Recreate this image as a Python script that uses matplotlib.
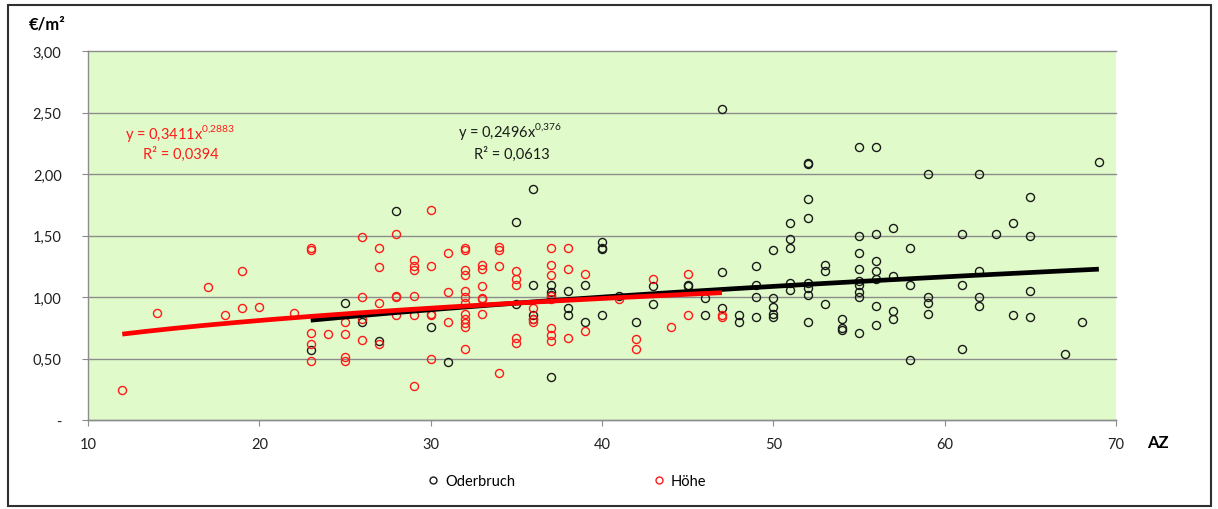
import numpy as np
import matplotlib
matplotlib.use("Agg")
import matplotlib.pyplot as plt
from matplotlib.lines import Line2D
from matplotlib.patches import Rectangle
from matplotlib.ticker import FuncFormatter

plt.rcParams["font.family"] = ["Lato", "DejaVu Sans"]
plt.rcParams["mathtext.fontset"] = "custom"
plt.rcParams["mathtext.rm"] = "Lato"

# Oderbruch: AZ vs. €/m²
ode_x = [
    23, 25, 26, 27, 28, 30, 31,
    35, 35,
    36, 36, 36, 36,
    37, 37, 37, 37,
    38, 38, 38,
    39, 39,
    40, 40, 40, 40,
    41, 42,
    43, 43,
    45, 45,
    46, 46,
    47, 47, 47,
    48, 48,
    49, 49, 49, 49,
    50, 50, 50, 50, 50,
    51, 51, 51, 51, 51,
    52, 52, 52, 52, 52, 52, 52, 52,
    53, 53, 53,
    54, 54, 54,
    55, 55, 55, 55, 55, 55, 55, 55, 55,
    56, 56, 56, 56, 56, 56, 56,
    57, 57, 57, 57,
    58, 58, 58,
    59, 59, 59, 59,
    61, 61, 61,
    62, 62, 62, 62,
    63, 64, 64,
    65, 65, 65, 65,
    67, 68, 69,
]
ode_y = [
    0.57, 0.95, 0.80, 0.64, 1.70, 0.76, 0.47,
    1.61, 0.94,
    1.88, 1.10, 0.85, 0.82,
    1.10, 1.04, 1.02, 0.35,
    1.05, 0.91, 0.85,
    1.10, 0.80,
    1.45, 1.40, 1.39, 0.85,
    1.01, 0.80,
    1.09, 0.94,
    1.10, 1.09,
    0.99, 0.85,
    2.53, 1.20, 0.91,
    0.85, 0.80,
    1.25, 1.10, 1.00, 0.84,
    1.38, 0.99, 0.92, 0.86, 0.84,
    1.60, 1.47, 1.40, 1.11, 1.06,
    2.08, 2.09, 1.80, 1.64, 1.11, 1.07, 1.02, 0.80,
    1.26, 1.21, 0.94,
    0.82, 0.75, 0.73,
    2.22, 1.50, 1.36, 1.23, 1.13, 1.10, 1.04, 1.00, 0.71,
    2.22, 1.51, 1.29, 1.21, 1.15, 0.93, 0.77,
    1.56, 1.17, 0.89, 0.82,
    1.40, 1.10, 0.49,
    2.00, 1.00, 0.95, 0.86,
    1.51, 1.10, 0.58,
    2.00, 1.21, 1.00, 0.93,
    1.51, 1.60, 0.85,
    1.81, 1.50, 1.05, 0.84,
    0.54, 0.80, 2.10,
]

# Höhe: AZ vs. €/m²
hoe_x = [
    12, 14, 17, 18, 19, 19, 20, 22,
    23, 23, 23, 23, 23,
    24,
    25, 25, 25, 25,
    26, 26, 26, 26,
    27, 27, 27, 27,
    28, 28, 28, 28,
    29, 29, 29, 29, 29, 29,
    30, 30, 30, 30, 30,
    31, 31, 31,
    32, 32, 32, 32, 32, 32, 32, 32, 32, 32, 32, 32,
    33, 33, 33, 33, 33, 33,
    34, 34, 34, 34,
    35, 35, 35, 35, 35,
    36, 36, 36,
    37, 37, 37, 37, 37, 37, 37, 37,
    38, 38, 38,
    39, 39,
    41, 42, 42, 43, 44,
    45, 45,
    47, 47,
]
hoe_y = [
    0.24, 0.87, 1.08, 0.85, 1.21, 0.91, 0.92, 0.87,
    1.40, 1.38, 0.71, 0.62, 0.48,
    0.70,
    0.80, 0.70, 0.51, 0.48,
    1.49, 1.00, 0.82, 0.65,
    1.40, 1.24, 0.95, 0.62,
    1.51, 1.01, 1.00, 0.85,
    1.30, 1.25, 1.22, 1.01, 0.85, 0.28,
    1.71, 1.25, 0.86, 0.85, 0.50,
    1.36, 1.04, 0.80,
    1.40, 1.38, 1.22, 1.18, 1.05, 1.00, 0.95, 0.86, 0.82, 0.79, 0.76, 0.58,
    1.26, 1.23, 1.09, 0.99, 0.98, 0.86,
    1.41, 1.38, 1.25, 0.38,
    1.21, 1.15, 1.10, 0.67, 0.63,
    0.91, 0.82, 0.80,
    1.40, 1.26, 1.18, 1.01, 0.98, 0.75, 0.69, 0.64,
    1.40, 1.23, 0.67,
    1.19, 0.72,
    0.98, 0.66, 0.58, 1.15, 0.76,
    1.19, 0.85,
    0.85, 0.84,
]

# power trendlines y = a * x^b
ode_a, ode_b, ode_r2 = 0.2496, 0.376, 0.0613
hoe_a, hoe_b, hoe_r2 = 0.3411, 0.2883, 0.0394
ode_span = (23, 69)
hoe_span = (12, 47)

y_ticks = [0, 0.5, 1.0, 1.5, 2.0, 2.5, 3.0]
x_ticks = [10, 20, 30, 40, 50, 60, 70]

ODE_C = "#1a1a1a"
HOE_C = "#ff1a1a"
GRID_C = "#8c8c8c"


def de(v, nd):
    return f"{v:.{nd}f}".replace(".", "{,}")


W, H = 1218, 510
fig = plt.figure(figsize=(W / 100, H / 100), dpi=100)
ax = fig.add_axes([88 / W, 1 - 421 / H, (1116 - 88) / W, (421 - 52) / H])
ax.set_facecolor("#e0fbc9")

ax.plot(ode_x, ode_y, ls="none", marker="o", ms=5.8, mfc="none", mec=ODE_C, mew=1.0, zorder=3)
ax.plot(hoe_x, hoe_y, ls="none", marker="o", ms=5.8, mfc="none", mec=HOE_C, mew=1.0, zorder=3)

xs = np.linspace(*ode_span, 200)
ax.plot(xs, ode_a * xs ** ode_b, color="black", lw=3.4, solid_capstyle="butt", zorder=4)
xs = np.linspace(*hoe_span, 200)
ax.plot(xs, hoe_a * xs ** hoe_b, color="#ff0000", lw=3.4, solid_capstyle="butt", zorder=5)

ax.set_xlim(10, 70)
ax.set_ylim(0, 3)
ax.set_xticks(x_ticks)
ax.set_yticks(y_ticks)
ax.yaxis.set_major_formatter(FuncFormatter(lambda v, p: "-" if v == 0 else f"{v:.2f}".replace(".", ",")))
ax.grid(axis="y", color=GRID_C, lw=1.0, clip_on=False)
ax.set_axisbelow(True)
for s in ("top", "right"):
    ax.spines[s].set_visible(False)
for s in ("left", "bottom"):
    ax.spines[s].set_color(GRID_C)
    ax.spines[s].set_linewidth(1.0)
ax.tick_params(axis="y", length=4, color=GRID_C, pad=15, labelsize=10.5, labelcolor="#202020")
ax.tick_params(axis="x", length=4, color=GRID_C, pad=8, labelsize=10.5, labelcolor="#202020")

# trendline equations
ax.text(12.15, 2.34, "y = 0,3411x$^{\\mathregular{%s}}$" % de(hoe_b, 4), color=HOE_C,
        fontsize=10.5, va="center", ha="left")
ax.text(13.2, 2.17, "R² = " + f"{hoe_r2:.4f}".replace(".", ","), color=HOE_C,
        fontsize=10.5, va="center", ha="left")
ax.text(31.6, 2.35, "y = 0,2496x$^{\\mathregular{%s}}$" % de(ode_b, 3), color=ODE_C,
        fontsize=10.5, va="center", ha="left")
ax.text(32.5, 2.17, "R² = " + f"{ode_r2:.4f}".replace(".", ","), color=ODE_C,
        fontsize=10.5, va="center", ha="left")

fig.text(29 / W, 1 - 25 / H, "€/m²", fontsize=12, fontweight="bold", va="center", ha="left")
fig.text(1147 / W, 1 - 443 / H, "AZ", fontsize=12, fontweight="bold", va="center", ha="left")

handles = [
    Line2D([], [], ls="none", marker="o", ms=5, mfc="none", mec=ODE_C, mew=1.0, label="Oderbruch"),
    Line2D([], [], ls="none", marker="o", ms=5, mfc="none", mec=HOE_C, mew=1.0, label="Höhe"),
]
fig.legend(handles=handles, loc="center", bbox_to_anchor=(567 / W, 1 - 482 / H), ncol=2,
           frameon=False, fontsize=10.5, handlelength=0.8, handletextpad=0.4, columnspacing=9.5)

fig.add_artist(Rectangle((8 / W, 3 / H), (1211 - 8) / W, (507 - 6) / H, transform=fig.transFigure,
                         fill=False, ec="#303030", lw=1.5))

fig.savefig("out.png", dpi=100)
